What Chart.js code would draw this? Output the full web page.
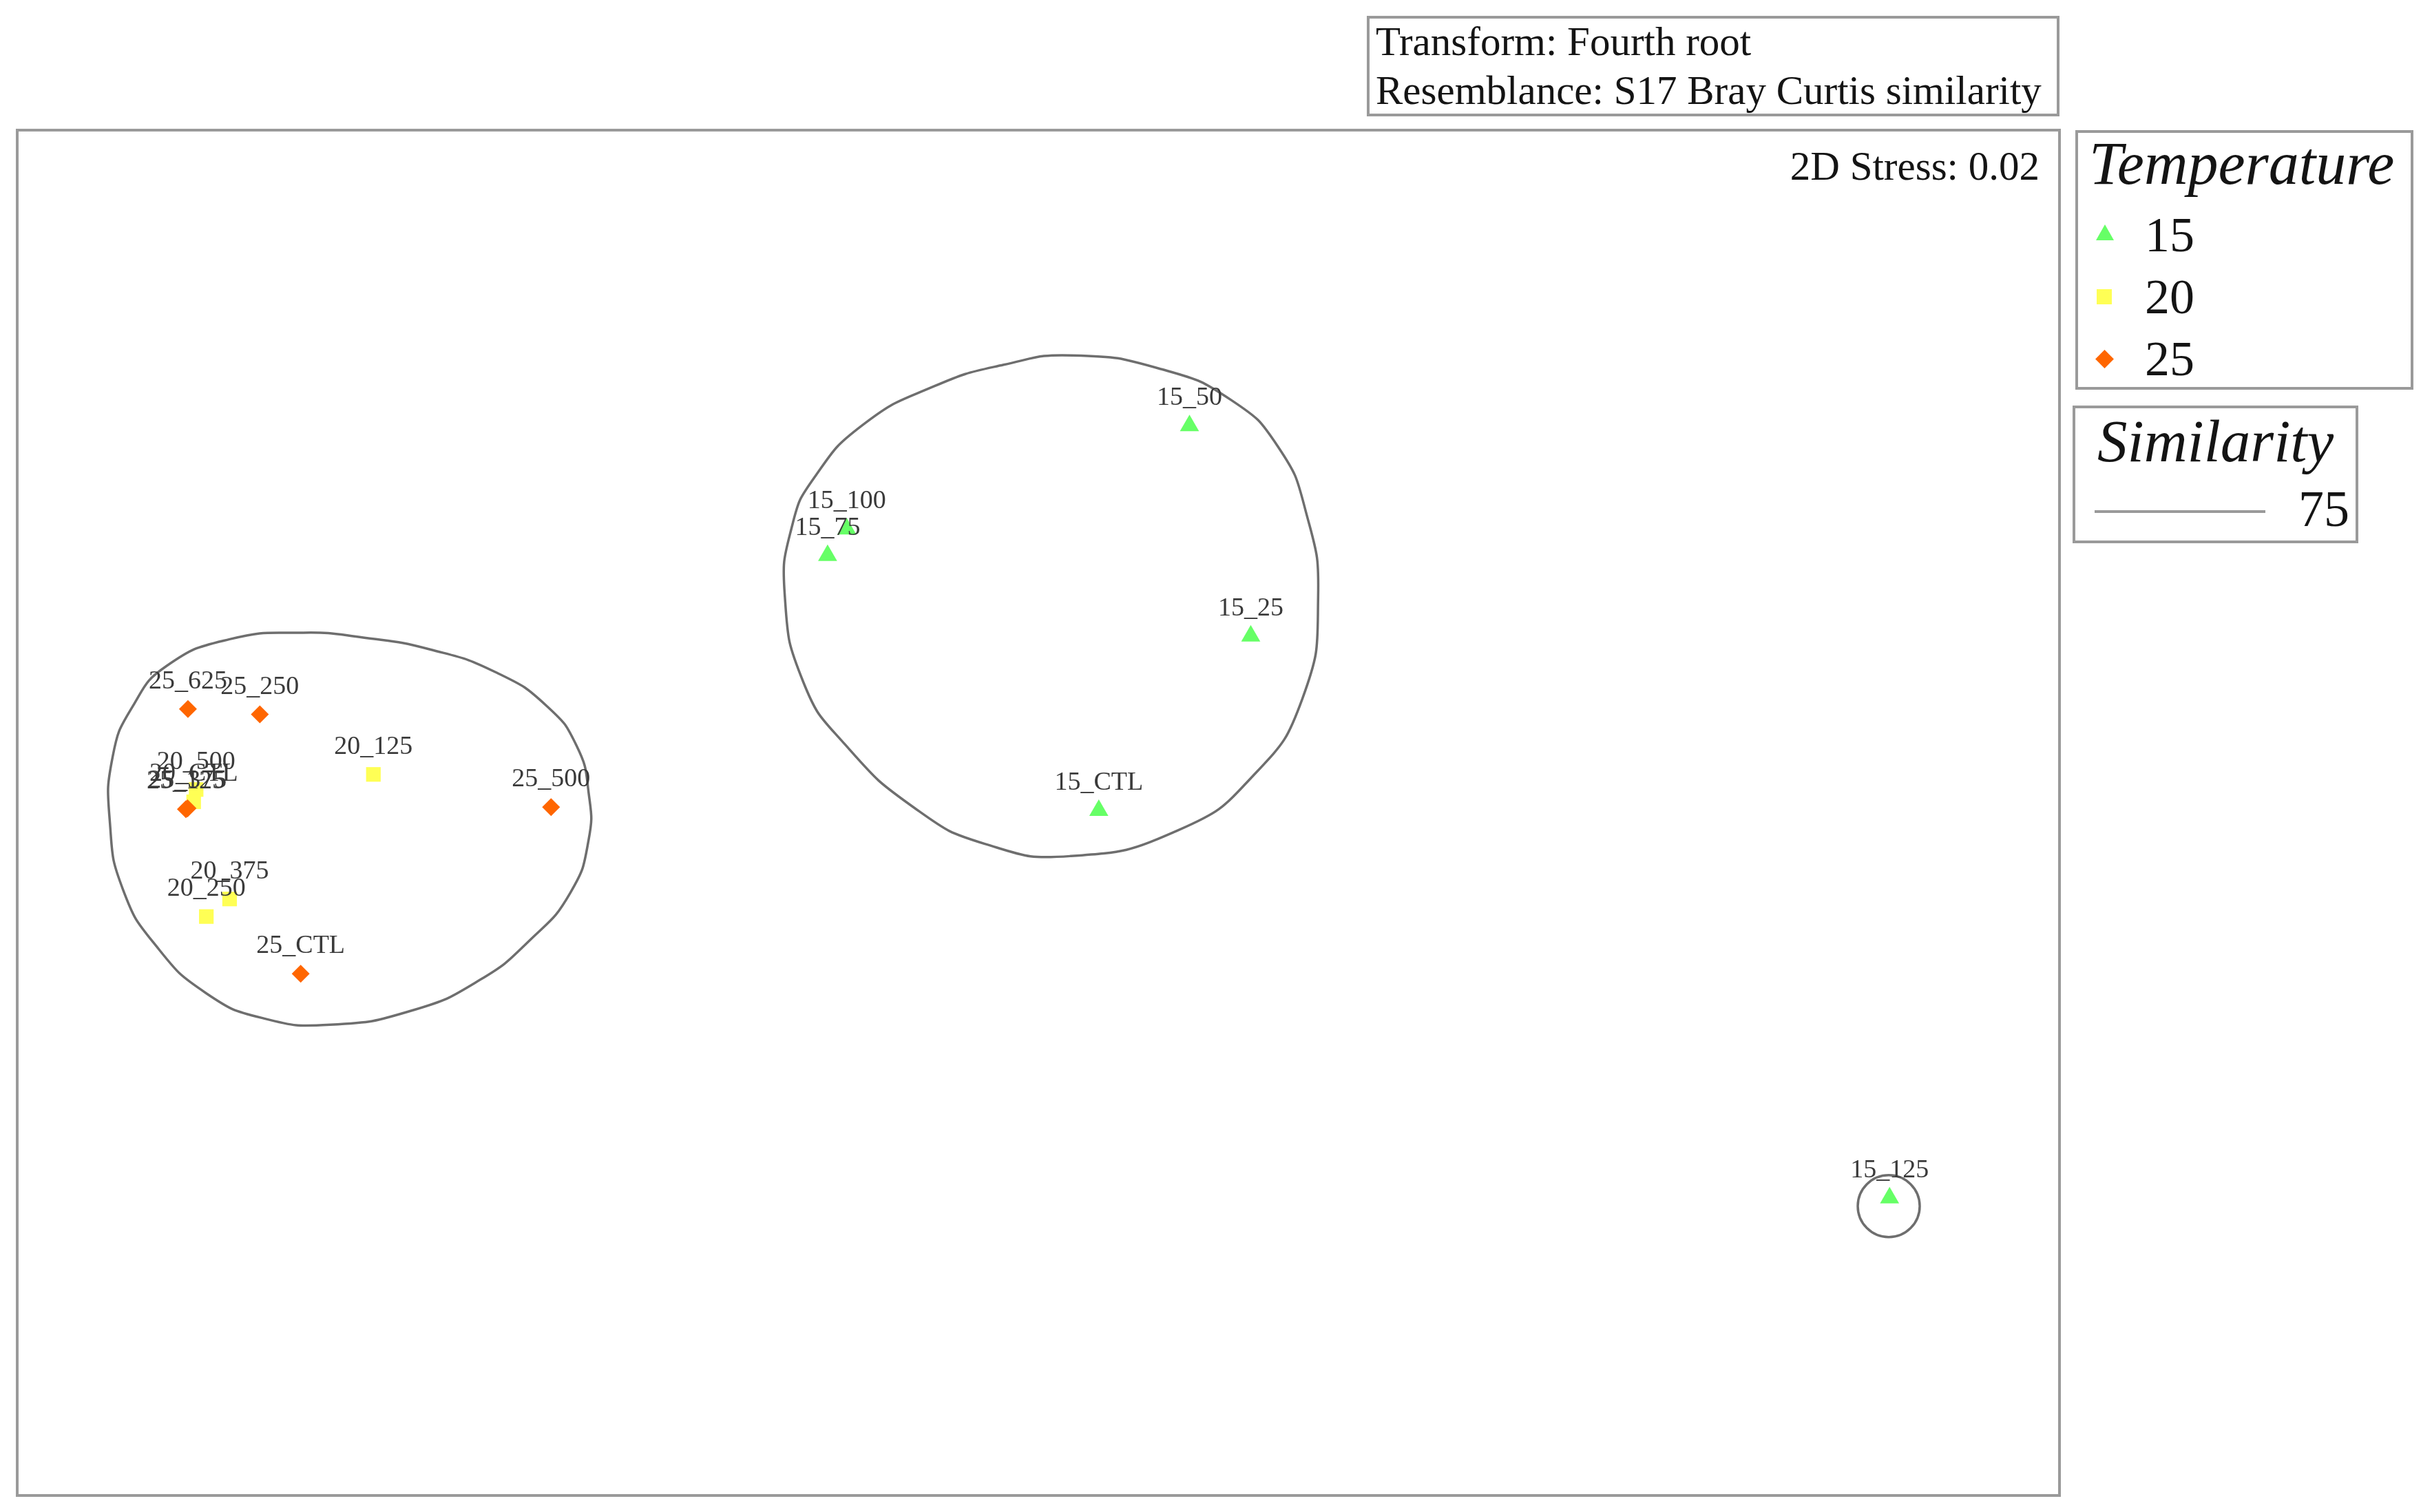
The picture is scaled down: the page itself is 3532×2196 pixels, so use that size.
<!DOCTYPE html>
<html>
<head>
<meta charset="utf-8">
<script src="https://cdn.jsdelivr.net/npm/chart.js@4.4.1/dist/chart.umd.min.js"></script>
<style>
html,body{margin:0;padding:0;background:#fff;width:3532px;height:2196px;overflow:hidden;font-family:"Liberation Serif","Times New Roman",serif;color:#141414;}
#wrap{position:relative;width:3532px;height:2196px;}
canvas{position:absolute;left:0;top:0;}
.box{position:absolute;box-sizing:border-box;border:4px solid #9a9a9a;}
.t{position:absolute;white-space:nowrap;line-height:1;}
.it{font-style:italic;}
.tri{position:absolute;width:0;height:0;border-left:13px solid transparent;border-right:13px solid transparent;border-bottom:23px solid #66ff66;}
.sq{position:absolute;width:22px;height:22px;background:#ffff55;}
.dia{position:absolute;width:19px;height:19px;background:#ff6600;transform:rotate(45deg);}
</style>
</head>
<body>
<div id="wrap">
<canvas id="c" width="3532" height="2196"></canvas>

<div class="box" style="left:1985px;top:23px;width:1006px;height:146px"></div>
<div class="t" style="left:1998px;top:31px;font-size:59px">Transform: Fourth root</div>
<div class="t" style="left:1998px;top:102px;font-size:59px">Resemblance: S17 Bray Curtis similarity</div>

<div class="t" style="right:570px;top:212px;font-size:59px">2D Stress: 0.02</div>

<div class="box" style="left:3014px;top:189px;width:491px;height:377px"></div>
<div class="t it" style="left:3034px;top:194px;font-size:88px">Temperature</div>
<div class="tri" style="left:3044px;top:326px"></div>
<div class="t" style="left:3115px;top:305px;font-size:72px">15</div>
<div class="sq" style="left:3045px;top:420px"></div>
<div class="t" style="left:3115px;top:395px;font-size:72px">20</div>
<div class="dia" style="left:3047px;top:512px"></div>
<div class="t" style="left:3115px;top:485px;font-size:72px">25</div>

<div class="box" style="left:3010px;top:589px;width:415px;height:200px"></div>
<div class="t it" style="left:3046px;top:597px;font-size:87px">Similarity</div>
<div style="position:absolute;left:3042px;top:741px;width:248px;height:4px;background:#9a9a9a"></div>
<div class="t" style="left:3338px;top:702px;font-size:74px">75</div>
</div>

<script>
// ---- data (nMDS coordinates) ----
const names15 = ['15_50', '15_100', '15_75', '15_25', '15_CTL', '15_125'];
const x15 = [0.370, -0.469, -0.516, 0.520, 0.148, 2.084];
const y15 = [0.948, 0.695, 0.630, 0.433, 0.006, -0.943];

const names20 = ['20_125', '20_500', '20_CTL', '20_375', '20_250'];
const x20 = [-1.628, -2.062, -2.068, -1.980, -2.037];
const y20 = [0.094, 0.057, 0.027, -0.211, -0.254];

const names25 = ['25_625', '25_250', '25_500', '25_CTL', '25_125', '25_375'];
const x25 = [-2.082, -1.906, -1.193, -1.806, -2.087, -2.083];
const y25 = [0.254, 0.241, 0.014, -0.394, 0.009, 0.011];

// 75% similarity contours (closed outlines)
const hullLeftX = [-1.800, -1.653, -1.489, -1.326, -1.203, -1.130, -1.101, -1.101, -1.146, -1.244, -1.367, -1.530, -1.734, -1.898, -2.037, -2.159, -2.241, -2.273, -2.266, -2.217, -2.135, -1.980];
const hullLeftY = [0.441, 0.429, 0.400, 0.343, 0.261, 0.163, 0.049, -0.066, -0.196, -0.311, -0.409, -0.483, -0.519, -0.503, -0.442, -0.327, -0.188, -0.025, 0.139, 0.261, 0.359, 0.425];
const hullMidX = [0.085, 0.302, 0.473, 0.587, 0.655, 0.685, 0.647, 0.526, 0.344, 0.078, -0.131, -0.302, -0.473, -0.575, -0.621, -0.602, -0.549, -0.431, -0.256, -0.085];
const hullMidY = [1.120, 1.086, 1.010, 0.896, 0.737, 0.528, 0.281, 0.091, -0.042, -0.106, -0.076, 0.011, 0.167, 0.319, 0.535, 0.706, 0.820, 0.949, 1.044, 1.097];
const hullSmallX = [2.082];
const hullSmallY = [-0.963];

const axisX = [-2.5, 2.5];
const axisY = [-1.6715, 1.6715];

// ---- build ----
const zip = (xs, ys) => xs.map((x, i) => ({x: x, y: ys[i]}));
// wrap a closed outline so every visible segment has neighbours on both sides
function closedLoop(xs, ys) {
  const pts = zip(xs, ys);
  const n = pts.length;
  return [pts[n - 1]].concat(pts, [pts[0], pts[1]]);
}
const HULL_COLOR = '#6e6e6e';
function hullDataset(label, xs, ys) {
  const data = closedLoop(xs, ys);
  const last = data.length - 1;
  return {
    label: label, data: data, showLine: true, pointRadius: 0, pointHoverRadius: 0,
    borderColor: HULL_COLOR, borderWidth: 3.5, tension: 0.5, fill: false, order: 5,
    segment: {
      borderColor: ctx => (ctx.p0DataIndex === 0 || ctx.p1DataIndex === last) ? 'rgba(0,0,0,0)' : HULL_COLOR
    }
  };
}

const frame = {
  id: 'frame',
  beforeDatasetsDraw(chart) {
    const {left, top, right, bottom} = chart.chartArea;
    const ctx = chart.ctx;
    ctx.save();
    ctx.strokeStyle = '#9a9a9a';
    ctx.lineWidth = 4;
    ctx.strokeRect(left, top, right - left, bottom - top);
    ctx.restore();
  }
};

const pointLabels = {
  id: 'pointLabels',
  afterDatasetsDraw(chart) {
    const ctx = chart.ctx;
    ctx.save();
    ctx.font = '38px "Liberation Serif"';
    ctx.fillStyle = '#3a3a3a';
    ctx.textAlign = 'center';
    ctx.textBaseline = 'middle';
    chart.data.datasets.forEach((ds, i) => {
      if (!ds.pointNames) return;
      const meta = chart.getDatasetMeta(i);
      meta.data.forEach((el, j) => {
        ctx.fillText(ds.pointNames[j], el.x, el.y - 40);
      });
    });
    ctx.restore();
  }
};

new Chart(document.getElementById('c'), {
  type: 'scatter',
  data: {
    datasets: [
      {label: '15', data: zip(x15, y15), pointNames: names15, pointStyle: 'triangle',
       pointRadius: 16, pointHoverRadius: 16, pointBackgroundColor: '#66ff66', pointBorderWidth: 0, order: 0},
      {label: '20', data: zip(x20, y20), pointNames: names20, pointStyle: 'rect',
       pointRadius: 15, pointHoverRadius: 15, pointBackgroundColor: '#ffff55', pointBorderWidth: 0, order: 1},
      {label: '25', data: zip(x25, y25), pointNames: names25, pointStyle: 'rectRot',
       pointRadius: 13, pointHoverRadius: 13, pointBackgroundColor: '#ff6600', pointBorderWidth: 0, order: 0},
      hullDataset('Similarity 75 (a)', hullLeftX, hullLeftY),
      hullDataset('Similarity 75 (b)', hullMidX, hullMidY),
      {label: 'Similarity 75 (c)', data: zip(hullSmallX, hullSmallY), pointStyle: 'circle',
       pointRadius: 45, pointHoverRadius: 45, pointBackgroundColor: 'rgba(0,0,0,0)',
       pointBorderColor: HULL_COLOR, pointBorderWidth: 3.5, order: 5}
    ]
  },
  options: {
    responsive: false,
    animation: false,
    events: [],
    layout: {autoPadding: false, padding: {left: 25, top: 189, right: 541, bottom: 24}},
    scales: {
      x: {type: 'linear', min: axisX[0], max: axisX[1], display: false},
      y: {type: 'linear', min: axisY[0], max: axisY[1], display: false}
    },
    plugins: {legend: {display: false}, tooltip: {enabled: false}, title: {display: false}}
  },
  plugins: [frame, pointLabels]
});
</script>
</body>
</html>
